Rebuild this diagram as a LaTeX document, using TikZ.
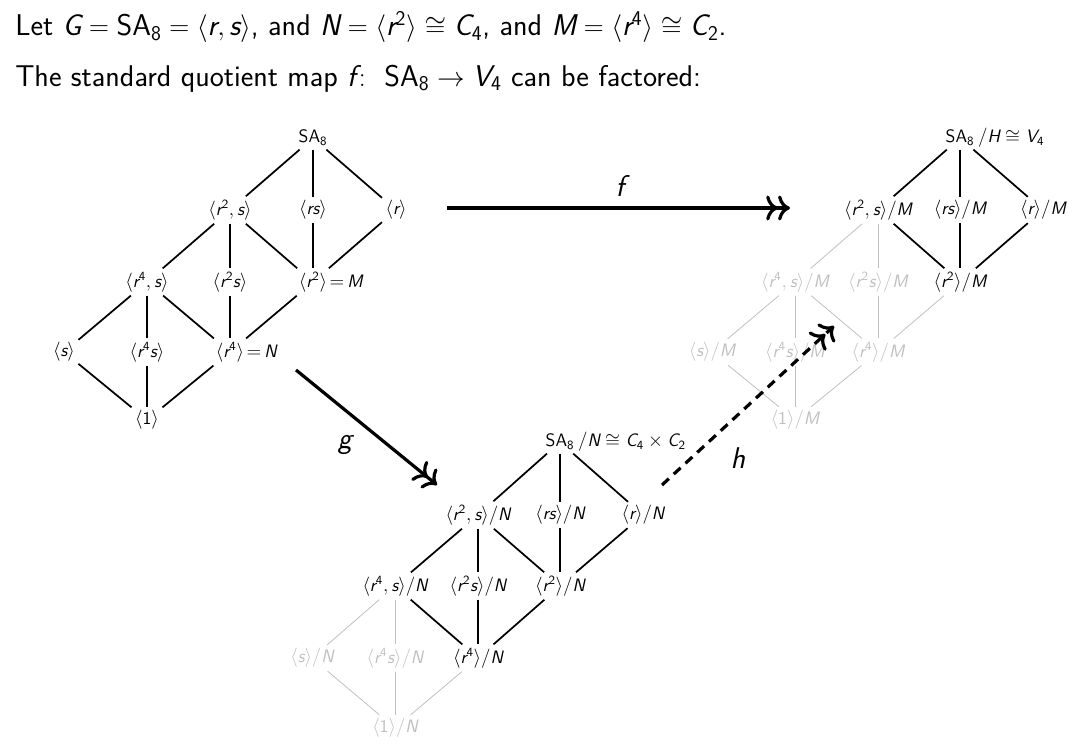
\documentclass[tikz,border=0pt]{standalone}
\usepackage{amsmath,amssymb}
\usetikzlibrary{arrows.meta}
\newcommand{\mi}[1]{\text{\sffamily\slshape #1}}
\newcommand{\mn}[1]{\text{\sffamily\upshape #1}}
\newcommand{\SAx}{\mn{SA}_{\mn{8}}}
\newcommand{\vr}{\mi{r}}
\newcommand{\vs}{\mi{s}}
\newcommand{\vM}{\mi{M}}
\newcommand{\vN}{\mi{N}}
\renewcommand{\familydefault}{\sfdefault}
\begin{document}
\sffamily
\begin{tikzpicture}[x=0.75pt,y=-0.75pt,
  lab/.style={font=\fontsize{13.5}{15}\selectfont, inner sep=2.5pt},
  gl/.style={lab, text=black!25},
  e/.style={line width=1.3pt},
  ge/.style={line width=0.6pt, black!25},
  big/.style={line width=2.4pt, -{Computer Modern Rightarrow[scale=1.3]Computer Modern Rightarrow[scale=1.3]}},
  suf/.style={anchor=base west, inner sep=0pt, font=\fontsize{13.5}{15}\selectfont}]
\useasboundingbox (0,0) rectangle (1078,753);
\node[anchor=base west, font=\fontsize{22.5}{26}\selectfont, inner sep=0] (t1) at (15,36) {Let $\mi{G}=\SAx=\langle\vr,\vs\rangle$, and $\vN=\langle\vr^{\mn{2}}\rangle\cong\mi{C}_{\mn{4}}$, and $\vM=\langle\vr^{\mn{4}}\rangle\cong\mi{C}_{\mn{2}}$.};
\node[anchor=base west, font=\fontsize{22.5}{26}\selectfont, inner sep=0] (t2) at (15,86) {The standard quotient map $\mi{f}\colon\ \SAx\to\mi{V}_{\mn{4}}$ can be factored:};
% left lattice
\node[lab] (LT) at (313,138) {$\SAx$};
\node[lab] (LA) at (230,210) {$\langle\vr^{\mn{2}},\vs\rangle$};
\node[lab] (LB) at (313,210) {$\langle\vr\vs\rangle$};
\node[lab] (LC) at (396,210) {$\langle\vr\rangle$};
\node[lab] (LD) at (147,282) {$\langle\vr^{\mn{4}},\vs\rangle$};
\node[lab] (LE) at (230,282) {$\langle\vr^{\mn{2}}\vs\rangle$};
\node[lab] (LF) at (313,282) {$\langle\vr^{\mn{2}}\rangle$};
\node[suf] (LFs) at ([xshift=-1pt]LF.base east) {${=}\,\vM$};
\node[lab] (LG) at (64,352) {$\langle\vs\rangle$};
\node[lab] (LH) at (147,352) {$\langle\vr^{\mn{4}}\vs\rangle$};
\node[lab] (LI) at (230,352) {$\langle\vr^{\mn{4}}\rangle$};
\node[suf] (LIs) at ([xshift=-1pt]LI.base east) {${=}\,\vN$};
\node[lab] (LJ) at (147,420) {$\langle\mn{1}\rangle$};
\foreach \a/\b in {LT/LA,LT/LB,LT/LC,LA/LD,LA/LE,LA/LF,LB/LF,LC/LF,LD/LG,LD/LH,LD/LI,LE/LI,LF/LI,LG/LJ,LH/LJ,LI/LJ}
  \draw[e] (\a) -- (\b);
% right lattice (mod M)
\node[lab] (RT) at (960,138) {$\SAx$};
\node[suf] (RTs) at (RT.base east) {$/\mi{H}\cong\mi{V}_{\mn{4}}$};
\node[lab] (RA) at (878,210) {$\langle\vr^{\mn{2}},\vs\rangle/\vM$};
\node[lab] (RB) at (960,210) {$\langle\vr\vs\rangle/\vM$};
\node[lab] (RC) at (1043,210) {$\langle\vr\rangle/\vM$};
\node[gl] (RD) at (795,282) {$\langle\vr^{\mn{4}},\vs\rangle/\vM$};
\node[gl] (RE) at (878,282) {$\langle\vr^{\mn{2}}\vs\rangle/\vM$};
\node[lab] (RF) at (960,282) {$\langle\vr^{\mn{2}}\rangle/\vM$};
\node[gl] (RG) at (712,352) {$\langle\vs\rangle/\vM$};
\node[gl] (RH) at (795,352) {$\langle\vr^{\mn{4}}\vs\rangle/\vM$};
\node[gl] (RI) at (878,352) {$\langle\vr^{\mn{4}}\rangle/\vM$};
\node[gl] (RJ) at (795,420) {$\langle\mn{1}\rangle/\vM$};
\foreach \a/\b in {RT/RA,RT/RB,RT/RC,RA/RF,RB/RF,RC/RF}
  \draw[e] (\a) -- (\b);
\foreach \a/\b in {RA/RD,RA/RE,RD/RG,RD/RH,RD/RI,RE/RI,RF/RI,RG/RJ,RH/RJ,RI/RJ}
  \draw[ge] (\a) -- (\b);
% bottom lattice (mod N)
\node[lab] (BT) at (560,442) {$\SAx$};
\node[suf] (BTs) at (BT.base east) {$/\vN\cong\mi{C}_{\mn{4}}\times\mi{C}_{\mn{2}}$};
\node[lab] (BA) at (478,515) {$\langle\vr^{\mn{2}},\vs\rangle/\vN$};
\node[lab] (BB) at (560,515) {$\langle\vr\vs\rangle/\vN$};
\node[lab] (BC) at (643,515) {$\langle\vr\rangle/\vN$};
\node[lab] (BD) at (395,586) {$\langle\vr^{\mn{4}},\vs\rangle/\vN$};
\node[lab] (BE) at (478,586) {$\langle\vr^{\mn{2}}\vs\rangle/\vN$};
\node[lab] (BF) at (560,586) {$\langle\vr^{\mn{2}}\rangle/\vN$};
\node[gl] (BG) at (312,658) {$\langle\vs\rangle/\vN$};
\node[gl] (BH) at (395,658) {$\langle\vr^{\mn{4}}\vs\rangle/\vN$};
\node[lab] (BI) at (478,658) {$\langle\vr^{\mn{4}}\rangle/\vN$};
\node[gl] (BJ) at (395,728) {$\langle\mn{1}\rangle/\vN$};
\foreach \a/\b in {BT/BA,BT/BB,BT/BC,BA/BD,BA/BE,BA/BF,BB/BF,BC/BF,BD/BI,BE/BI,BF/BI}
  \draw[e] (\a) -- (\b);
\foreach \a/\b in {BD/BG,BD/BH,BG/BJ,BH/BJ,BI/BJ}
  \draw[ge] (\a) -- (\b);
% maps
\coordinate (f0) at (447,208);
\coordinate (f1) at (790,208);
\coordinate (g0) at (296,370);
\coordinate (g1) at (437,485);
\coordinate (h0) at (662,485);
\coordinate (h1) at (834,326);
\draw[big] (f0) -- (f1);
\node[font=\fontsize{22.5}{26}\selectfont] (fl) at (620,186) {$\mi{f}$};
\draw[big] (g0) -- (g1);
\node[font=\fontsize{22.5}{26}\selectfont] (gl) at (345,445) {$\mi{g}$};
\draw[big, dash pattern=on 7pt off 5pt] (h0) -- (h1);
\node[font=\fontsize{22.5}{26}\selectfont] (hl) at (738,458) {$\mi{h}$};
\end{tikzpicture}
\end{document}
